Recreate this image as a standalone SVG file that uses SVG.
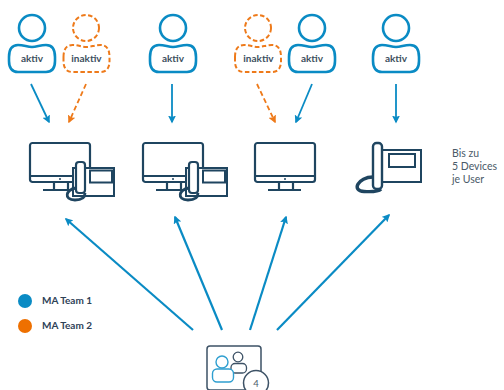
<svg xmlns="http://www.w3.org/2000/svg" width="504" height="390" viewBox="0 0 504 390">
<style>
text{font-family:"Lato","Liberation Sans",sans-serif}
.lbl{font-size:10px;font-weight:700;fill:#3d4f60;text-anchor:middle}
.a{fill:none;stroke:#0a8bc4;stroke-width:2.600}
.i{fill:none;stroke:#ee7a1a;stroke-width:2;stroke-dasharray:4.500 2.500}
.d{fill:none;stroke:#1f4560;stroke-width:2.200;stroke-linejoin:round}
.ca{stroke:#0a8bc4;stroke-width:1.800;fill:none}
.cl{stroke:#0a8bc4;stroke-width:2.200;fill:none}
.co{stroke:#ee7a1a;stroke-width:1.800;fill:none;stroke-dasharray:5 3}
.leg{font-size:10px;font-weight:700;fill:#2e4257}
</style>
<defs>
<marker id="mo" markerWidth="8" markerHeight="8" refX="6.500" refY="4" orient="auto" markerUnits="userSpaceOnUse"><path d="M0 0L8 4L0 8L1.500 4Z" fill="#ee7a1a"/></marker>
<marker id="mB" markerWidth="8" markerHeight="8" refX="6.500" refY="4" orient="auto" markerUnits="userSpaceOnUse"><path d="M0 0L8 4L0 8L1.500 4Z" fill="#0a8bc4"/></marker>
<g id="monitor"><rect x="0" y="0" width="60" height="39" rx="2.500" class="d"/><path class="d" d="M0 33H60M24 39V47M38 39V47M13 47H46"/><circle cx="30" cy="36" r="1" fill="#1f4560"/></g>
<g id="phone"><rect x="0" y="6" width="41" height="28" fill="#fff" stroke="#1f4560" stroke-width="2"/><rect x="17" y="8.500" width="22" height="12" fill="#fff" stroke="#1f4560" stroke-width="2"/><path d="M3 26C-7 27-10 38 2 38C8 38 12 36 12 31" fill="none" stroke="#1f4560" stroke-width="2.800"/><rect x="3" y="0" width="9" height="31" rx="3" fill="#fff" stroke="#1f4560" stroke-width="2.200"/></g>
<path id="torso" d="M0 13C0 5 3 1 9 1C15 1 18 3 23 3C28 3 31 1 37 1C43 1 46 5 46 13V17C46 24 43 28 37 28H9C3 28 0 24 0 17Z"/>
</defs>
<g id="connectors">
<path class="ca" marker-end="url(#mB)" d="M31 84L49 122"/>
<path class="co" marker-end="url(#mo)" d="M86 84L69 122"/>
<path class="ca" marker-end="url(#mB)" d="M172 84V122"/>
<path class="co" marker-end="url(#mo)" d="M257 84L275 122"/>
<path class="ca" marker-end="url(#mB)" d="M312 84L296 122"/>
<path class="ca" marker-end="url(#mB)" d="M396 84V122"/>
<path class="cl" marker-end="url(#mB)" d="M193 330L66 219"/>
<path class="cl" marker-end="url(#mB)" d="M222 330L175 217"/>
<path class="cl" marker-end="url(#mB)" d="M250 330L286 217"/>
<path class="cl" marker-end="url(#mB)" d="M277 330L389 215"/>
</g>
<g id="user1"><circle cx="32" cy="28" r="13" class="a"/><use href="#torso" class="a" transform="translate(9 44)"/><text x="32" y="62" class="lbl">aktiv</text></g>
<g id="user2"><circle cx="86" cy="28" r="13" class="i"/><use href="#torso" class="i" transform="translate(63.500 44)"/><text x="86.500" y="62" class="lbl">inaktiv</text></g>
<g id="user3"><circle cx="173" cy="28" r="13" class="a"/><use href="#torso" class="a" transform="translate(150 44)"/><text x="173" y="62" class="lbl">aktiv</text></g>
<g id="user4"><circle cx="258" cy="28" r="13" class="i"/><use href="#torso" class="i" transform="translate(235 44)"/><text x="258.500" y="62" class="lbl">inaktiv</text></g>
<g id="user5"><circle cx="312" cy="28" r="13" class="a"/><use href="#torso" class="a" transform="translate(289 44)"/><text x="312" y="62" class="lbl">aktiv</text></g>
<g id="user6"><circle cx="396" cy="28" r="13" class="a"/><use href="#torso" class="a" transform="translate(373 44)"/><text x="396" y="62" class="lbl">aktiv</text></g>
<g id="device1"><use href="#monitor" transform="translate(30 143)"/><use href="#phone" transform="translate(73 162)"/></g>
<g id="device2"><use href="#monitor" transform="translate(143 143)"/><use href="#phone" transform="translate(186 162)"/></g>
<g id="device3"><use href="#monitor" transform="translate(255 143)"/></g>
<g id="device4"><rect x="374" y="150" width="47" height="32" fill="#fff" stroke="#1f4560" stroke-width="2"/><rect x="389" y="154" width="26" height="13" fill="#fff" stroke="#1f4560" stroke-width="2"/><path d="M373 177C358 177 351 191 364 191.500C372 192 378 192 381 189" fill="none" stroke="#1f4560" stroke-width="3.400"/><rect x="373" y="143" width="9" height="46" rx="3.500" fill="#fff" stroke="#1f4560" stroke-width="2.400"/></g>
<g id="note" font-size="10.500" fill="#4a5a68"><text x="452" y="157">Bis zu</text><text x="452" y="170">5 Devices</text><text x="452" y="183">je User</text></g>
<g id="legend"><circle cx="25" cy="301" r="7" fill="#0a8bc4"/><text x="42" y="304" class="leg">MA Team 1</text><circle cx="25" cy="326" r="7" fill="#ee7000"/><text x="42" y="329" class="leg">MA Team 2</text></g>
<g id="team"><rect x="207" y="346" width="54" height="44" rx="3" fill="#fff" stroke="#3d5266" stroke-width="1.500"/><circle cx="238" cy="357" r="4.800" fill="none" stroke="#3d5266" stroke-width="1.300"/><rect x="231" y="363.500" width="15.500" height="9.500" rx="4" fill="none" stroke="#3d5266" stroke-width="1.300"/><circle cx="222" cy="362" r="6" fill="#fff" stroke="#2f9fd0" stroke-width="1.400"/><rect x="212.500" y="369" width="21" height="13" rx="4.500" fill="#fff" stroke="#2f9fd0" stroke-width="1.400"/><circle cx="256" cy="383" r="12.500" fill="#fff" stroke="#3d5266" stroke-width="1.500"/><text x="256" y="387" font-size="9.500" fill="#4a5a68" text-anchor="middle">4</text></g>
</svg>
